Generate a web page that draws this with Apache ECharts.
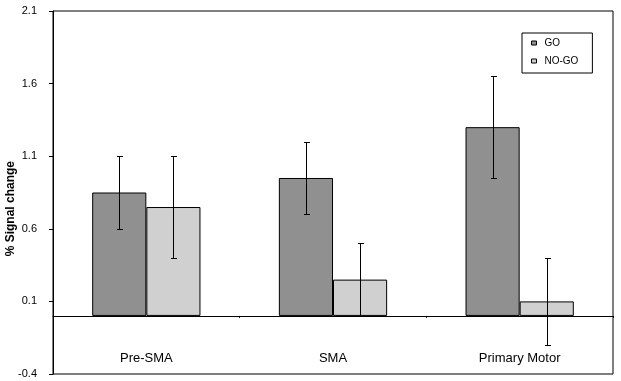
<!DOCTYPE html>
<html>
<head>
<meta charset="utf-8">
<script src="https://cdn.jsdelivr.net/npm/echarts@6/dist/echarts.min.js"></script>
<style>
html,body{margin:0;padding:0;background:#fff;}
#chart{width:621px;height:381px;}
</style>
</head>
<body>
<div id="chart"></div>
<script>
var categories = ['Pre-SMA', 'SMA', 'Primary Motor'];
var goValues = [0.85, 0.95, 1.30];
var goErrors = [0.25, 0.25, 0.35];
var noGoValues = [0.75, 0.25, 0.10];
var noGoErrors = [0.35, 0.25, 0.30];
var yTicks = [-0.4, 0.1, 0.6, 1.1, 1.6, 2.1];

var FONT = '"Liberation Sans", Arial, sans-serif';
var CAT_GAP = 0.42;

function errorSeries(name, values, errors, side) {
  var data = values.map(function (v, i) { return [i, v - errors[i], v + errors[i]]; });
  return {
    type: 'custom',
    name: name + ' err',
    z: 10,
    data: data,
    renderItem: function (params, api) {
      var band = api.size([1, 0])[0];
      var barW = band * (1 - CAT_GAP) / 2;
      var lo = api.coord([api.value(0), api.value(1)]);
      var hi = api.coord([api.value(0), api.value(2)]);
      var x = Math.round(lo[0] + side * barW / 2) + 0.5;
      var cap = 2.5;
      var st = { stroke: '#000', lineWidth: 1 };
      return {
        type: 'group',
        children: [
          { type: 'line', shape: { x1: x, y1: Math.round(hi[1]) + 0.5, x2: x, y2: Math.round(lo[1]) + 0.5 }, style: st },
          { type: 'line', shape: { x1: x - cap, y1: Math.round(hi[1]) + 0.5, x2: x + cap + 1, y2: Math.round(hi[1]) + 0.5 }, style: st },
          { type: 'line', shape: { x1: x - cap, y1: Math.round(lo[1]) + 0.5, x2: x + cap + 1, y2: Math.round(lo[1]) + 0.5 }, style: st }
        ]
      };
    }
  };
}

var chart = echarts.init(document.getElementById('chart'), null, { renderer: 'canvas' });
chart.setOption({
  animation: false,
  backgroundColor: '#fff',
  textStyle: { fontFamily: FONT },
  grid: { left: 53, right: 8, top: 11, bottom: 7, containLabel: false, outerBoundsMode: 'none', show: true, borderColor: '#000', borderWidth: 1, backgroundColor: 'transparent' },
  legend: {
    orient: 'vertical',
    left: 522, top: 33,
    padding: [5, 14, 7, 9],
    itemGap: 8,
    itemWidth: 5, itemHeight: 4,
    icon: 'rect',
    borderColor: '#000', borderWidth: 1,
    backgroundColor: '#fff',
    textStyle: { fontFamily: FONT, fontSize: 10, color: '#000', padding: [0, 0, 0, 3] },
    data: [
      { name: 'GO', itemStyle: { color: '#909090', borderColor: '#000', borderWidth: 1 } },
      { name: 'NO-GO', itemStyle: { color: '#d0d0d0', borderColor: '#000', borderWidth: 1 } }
    ]
  },
  xAxis: [{
    type: 'category',
    data: categories,
    boundaryGap: true,
    axisLine: { onZero: true, lineStyle: { color: '#000', width: 1 } },
    axisTick: { show: true, length: 2, lineStyle: { color: '#000' } },
    axisLabel: { show: false },
    splitLine: { show: false }
  }, {
    type: 'category',
    data: categories,
    position: 'bottom',
    boundaryGap: true,
    axisLine: { show: false, onZero: false },
    axisTick: { show: false },
    axisLabel: { inside: true, margin: 9, fontFamily: FONT, fontSize: 13, color: '#000' },
    splitLine: { show: false }
  }],
  yAxis: {
    type: 'value',
    min: yTicks[0],
    max: yTicks[yTicks.length - 1],
    interval: 0.5,
    axisLine: { show: true, lineStyle: { color: '#000' } },
    axisTick: { show: true, length: 4, lineStyle: { color: '#000' } },
    splitLine: { show: false },
    axisLabel: {
      margin: 16, fontFamily: FONT, fontSize: 11, color: '#000',
      formatter: function (v) { return (Math.round(v * 10) / 10).toFixed(1); }
    }
  },
  graphic: [{
    type: 'text',
    left: 5,
    top: 161,
    rotation: Math.PI / 2,
    style: { text: '% Signal change', font: 'bold 12px ' + FONT, fill: '#000' }
  }],
  series: [
    {
      name: 'GO', type: 'bar', data: goValues,
      barGap: '0%', barCategoryGap: (CAT_GAP * 100) + '%',
      itemStyle: { color: '#909090', borderColor: '#000', borderWidth: 1 }
    },
    {
      name: 'NO-GO', type: 'bar', data: noGoValues,
      barGap: '0%', barCategoryGap: (CAT_GAP * 100) + '%',
      itemStyle: { color: '#d0d0d0', borderColor: '#000', borderWidth: 1 }
    },
    errorSeries('GO', goValues, goErrors, -1),
    errorSeries('NO-GO', noGoValues, noGoErrors, 1)
  ]
});
</script>
</body>
</html>
